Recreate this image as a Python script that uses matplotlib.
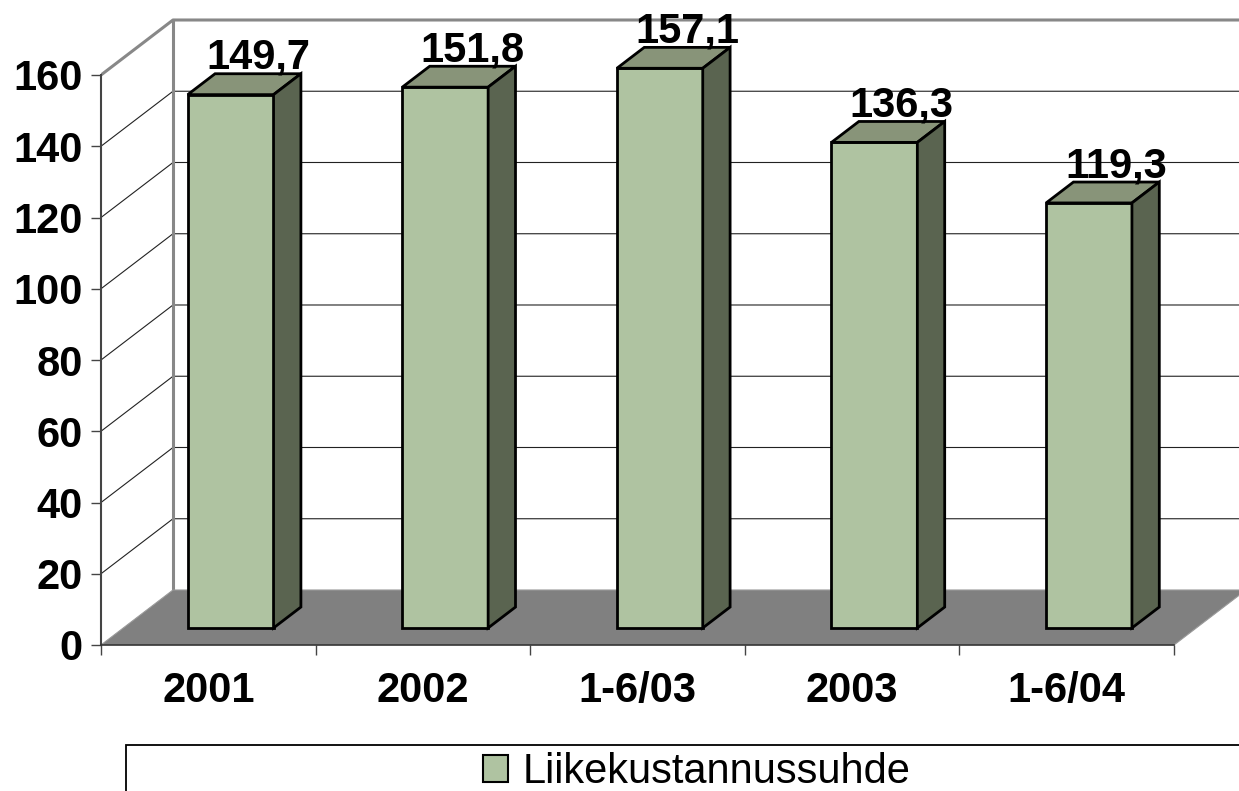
import matplotlib
matplotlib.use('Agg')
import matplotlib.pyplot as plt
from matplotlib.patches import Polygon, Rectangle, Patch

plt.rcParams['font.family'] = ['Liberation Sans', 'DejaVu Sans']

categories = ['2001', '2002', '1-6/03', '2003', '1-6/04']
values = [149.7, 151.8, 157.1, 136.3, 119.3]
yticks = [0, 20, 40, 60, 80, 100, 120, 140, 160]
series_name = 'Liikekustannussuhde'

front_c = '#afc3a1'
top_c = '#889479'
side_c = '#5a6450'
floor_c = '#808080'

fig = plt.figure(figsize=(12.39, 7.91), dpi=100)
ax = fig.add_axes([101/1239, 146/791, 1138/1239, 645/791])
xmax = 1138/214.6
ax.set_xlim(0, xmax)
ax.set_ylim(0, 645/3.5625)

n = len(categories)
ymax = yticks[-1]
dx, dy = 0.3355, 15.44    # depth of the 3d box (data units)
f0, f1 = 0.31, 0.69       # bars sit in the middle of the depth
bw = 0.4

# side wall + back wall gridlines
for v in yticks[1:-1]:
    ax.plot([0, dx, xmax], [v, v+dy, v+dy], color='#222222', lw=0.8, zorder=1,
            solid_joinstyle='miter')
ax.plot([0, dx, xmax], [ymax, ymax+dy, ymax+dy], color='#888888', lw=2.2, zorder=1)
ax.plot([dx, dx], [dy, ymax+dy], color='#888888', lw=2.2, zorder=1)

# floor
ax.add_patch(Polygon([(0, 0), (n, 0), (n+dx, dy), (dx, dy)], closed=True,
                     fc=floor_c, ec='#9a9a9a', lw=0.8, zorder=2))

# bars
ex, ey = (f1-f0)*dx, (f1-f0)*dy
for i, v in enumerate(values):
    x0 = i + 0.5 - bw/2 + f0*dx
    y0 = f0*dy
    ax.add_patch(Rectangle((x0, y0), bw, v, fc=front_c, ec='black', lw=2.0, zorder=3))
    ax.add_patch(Polygon([(x0, y0+v), (x0+bw, y0+v), (x0+bw+ex, y0+v+ey), (x0+ex, y0+v+ey)],
                         closed=True, fc=top_c, ec='black', lw=2.0, zorder=3))
    ax.add_patch(Polygon([(x0+bw, y0), (x0+bw+ex, y0+ey), (x0+bw+ex, y0+v+ey), (x0+bw, y0+v)],
                         closed=True, fc=side_c, ec='black', lw=2.0, zorder=3))
    ax.text(x0 + bw/2 + ex, y0 + v + ey + 1.4, ('%.1f' % v).replace('.', ','),
            ha='center', va='baseline', fontsize=30, fontweight='bold', zorder=5)

# axes
for s in ['top', 'right']:
    ax.spines[s].set_visible(False)
ax.spines['left'].set_bounds(0, ymax)
ax.spines['left'].set_color('#444444')
ax.spines['left'].set_linewidth(1.5)
ax.spines['bottom'].set_bounds(0, n)
ax.spines['bottom'].set_color('#333333')
ax.spines['bottom'].set_linewidth(1.2)
ax.spines['bottom'].set_zorder(4)

ax.set_yticks(yticks)
ax.set_yticklabels([str(t) for t in yticks], fontsize=30, fontweight='bold')
ax.tick_params(axis='y', length=7, width=1, color='#444444', pad=6)

ax.set_xticks(range(n+1))
ax.set_xticklabels([])
ax.set_xticks([i + 0.5 for i in range(n)], minor=True)
ax.set_xticklabels(categories, minor=True, fontsize=30, fontweight='bold')
ax.tick_params(axis='x', which='major', length=7, width=1, color='#444444')
ax.tick_params(axis='x', which='minor', length=0, pad=19)

# legend
fig.patches.append(Rectangle((126/1239, -0.1), 1.0, 0.1 + 46/791, transform=fig.transFigure,
                             fc='none', ec='black', lw=1.3))
fig.legend(handles=[Patch(fc=front_c, ec='black', lw=1.5, label=series_name)],
           loc='center', bbox_to_anchor=(697/1239, 1 - 772/791), frameon=False,
           fontsize=30, handlelength=0.6, handleheight=0.6, handletextpad=0.36,
           borderpad=0, borderaxespad=0)

fig.savefig('out.png', dpi=100)
